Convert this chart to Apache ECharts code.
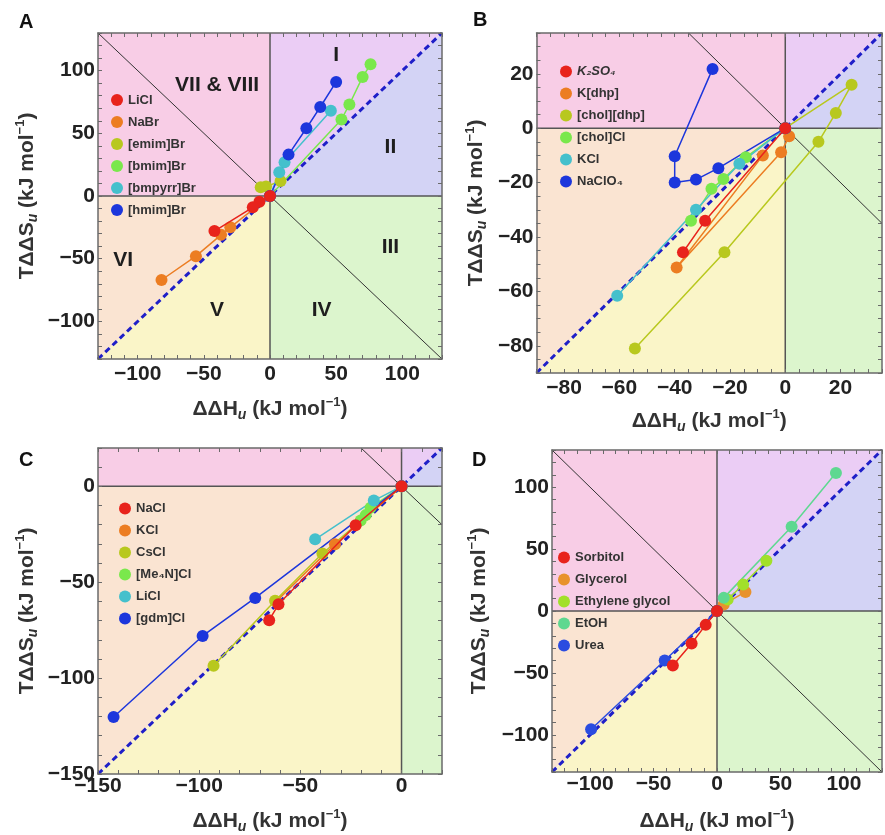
<!DOCTYPE html>
<html>
<head>
<meta charset="utf-8">
<script src="https://cdn.jsdelivr.net/npm/echarts@6/dist/echarts.min.js"></script>
<style>
html, body { margin: 0; padding: 0; background: #fff; }
#chart { width: 885px; height: 835px; }
</style>
</head>
<body>
<div id="chart"></div>
<script>
var FONT = '"Liberation Sans", Arial, sans-serif';

// colours used by the series (same order in every panel)
var RED = '#e8231c', ORANGE = '#ec7d22', OLIVE = '#b8c81e', LIME = '#7ae84c', CYAN = '#45c0cc', BLUE = '#1c36dc';

// ---- panel A : salts / ionic liquids ----
var namesA = ['LiCl', 'NaBr', '[emim]Br', '[bmim]Br', '[bmpyrr]Br', '[hmim]Br'];
var colorsA = [RED, ORANGE, OLIVE, LIME, CYAN, BLUE];
var a_LiCl = [[0, 0], [-8, -4.5], [-13, -9], [-42, -28]];
var a_NaBr = [[0, 0], [-30, -25], [-37, -31], [-56, -48], [-82, -67]];
var a_emim = [[-7, 7], [-3, 7.5], [8, 12]];
var a_bmim = [[0, 0], [54, 61], [60, 73], [70, 95], [76, 105]];
var a_bmpyrr = [[0, 0], [7, 19], [11, 27], [46, 68]];
var a_hmim = [[0, 0], [14, 33], [27.5, 54], [38, 71], [50, 91]];
var regionNames = ['I', 'II', 'III', 'IV', 'V', 'VI', 'VII & VIII'];
var regionSpots = [[50, 112], [91, 39], [91, -41], [39, -91], [-40, -91], [-111, -51], [-40, 88]];

// ---- panel B ----
var namesB = ['K\u2082SO\u2084', 'K[dhp]', '[chol][dhp]', '[chol]Cl', 'KCl', 'NaClO\u2084'];
var colorsB = [RED, ORANGE, OLIVE, LIME, CYAN, BLUE];
var b_K2SO4 = [[0, 0], [-29, -34], [-37, -45.6]];
var b_Kdhp = [[1.4, -3], [-1.5, -8.8], [-39.3, -51.2], [-8.1, -10]];
var b_choldhp = [[0, 0], [24, 16], [18.3, 5.6], [12, -5], [-22, -45.6], [-54.4, -81]];
var b_cholCl = [[0, 0], [-14.3, -10.7], [-22.4, -18.7], [-26.7, -22.3], [-34.1, -34]];
var b_KCl = [[0, 0], [-16.6, -13.1], [-32.3, -30], [-60.8, -61.6]];
var b_NaClO4 = [[0, 0], [-24.2, -14.7], [-32.3, -18.9], [-40, -20], [-40, -10.3], [-26.3, 21.8]];

// ---- panel C ----
var namesC = ['NaCl', 'KCl', 'CsCl', '[Me\u2084N]Cl', 'LiCl', '[gdm]Cl'];
var colorsC = [RED, ORANGE, OLIVE, LIME, CYAN, BLUE];
var c_NaCl = [[0, 0], [-22.7, -20.3], [-60.8, -61.5], [-65.4, -69.8]];
var c_KCl = [[0, 0], [-32.9, -30.2], [-62, -60]];
var c_CsCl = [[0, 0], [-39.1, -35], [-62.5, -59.7], [-92.9, -93.5]];
var c_Me4N = [[0, 0], [-15.3, -11.2], [-17.7, -15], [-20.2, -17.8]];
var c_LiCl = [[0, 0], [-13.7, -7.4], [-42.7, -27.6]];
var c_gdm = [[0, 0], [-72.3, -58.2], [-98.3, -78], [-142.3, -120.3]];

// ---- panel D : osmolytes ----
var namesD = ['Sorbitol', 'Glycerol', 'Ethylene glycol', 'EtOH', 'Urea'];
var colorsD = [RED, '#e8922c', '#a2e02a', '#5ed890', '#2a4ce0'];
var d_sorbitol = [[0, 0], [-8.9, -11.2], [-20, -26.2], [-34.8, -44]];
var d_glycerol = [[0, 0], [5.3, 5.3], [22.4, 15.4]];
var d_eg = [[0, 0], [8.4, 9.3], [20.6, 21.3], [38.9, 40.5]];
var d_etoh = [[0, 0], [5.3, 10.6], [58.8, 68], [93.7, 111.4]];
var d_urea = [[0, 0], [-41.2, -40], [-99.2, -95.5]];

var panels = [
    {letter: 'A', names: namesA, colors: colorsA, data: [a_LiCl, a_NaBr, a_emim, a_bmim, a_bmpyrr, a_hmim],
     left: 98, top: 33, width: 344, height: 326, lo: -130, hi: 130, step: 50, minor: 10,
     xMargin: 5, xGap: 37, yGap: 58, legend: [111, 93.5], letterPos: [19, 12]},
    {letter: 'B', names: namesB, colors: colorsB, data: [b_K2SO4, b_Kdhp, b_choldhp, b_cholCl, b_KCl, b_NaClO4],
     left: 536.5, top: 33, width: 358, height: 340, lo: -90, hi: 35, step: 20, minor: 5,
     xMargin: 5, xGap: 35, yGap: 47, legend: [560, 65], letterPos: [473, 10]},
    {letter: 'C', names: namesC, colors: colorsC, data: [c_NaCl, c_KCl, c_CsCl, c_Me4N, c_LiCl, c_gdm],
     left: 98, top: 448, width: 344, height: 329, lo: -150, hi: 20, step: 50, minor: 10,
     xMargin: 2, xGap: 34, yGap: 58, legend: [119, 502], letterPos: [19, 450]},
    {letter: 'D', names: namesD, colors: colorsD, data: [d_sorbitol, d_glycerol, d_eg, d_etoh, d_urea],
     left: 552, top: 450, width: 341, height: 325, lo: -130, hi: 130, step: 50, minor: 10,
     xMargin: 2, xGap: 36, yGap: 60, legend: [558, 551], letterPos: [472, 450]}
];

var FILLS = {pink: '#f8cde6', violet: '#ebcdf5', lavender: '#d3d3f5', green: '#dcf5cd', peach: '#fae4d2', yellow: '#faf5c8'};

function minusFmt(step) {
    return function (v) {
        if (Math.abs(v % step) > 1e-6) return '';
        return v < 0 ? '\u2212' + Math.abs(v) : String(v);
    };
}

function nameRich() {
    return {
        b: {fontFamily: FONT, fontWeight: 'bold', fontSize: 21, color: '#333', lineHeight: 26},
        s: {fontFamily: FONT, fontWeight: 'bold', fontStyle: 'italic', fontSize: 14, color: '#333', lineHeight: 14, verticalAlign: 'bottom'},
        p: {fontFamily: FONT, fontWeight: 'bold', fontSize: 13, color: '#333', lineHeight: 13, verticalAlign: 'top'}
    };
}

var frame = {show: true, onZero: false, lineStyle: {color: '#6a6a6a', width: 1.5}};
var tick = {show: true, inside: true, length: 4, lineStyle: {color: '#6a6a6a', width: 1}};

var option = {animation: false, grid: [], xAxis: [], yAxis: [], series: [], legend: [], graphic: []};

panels.forEach(function (p, i) {
    option.grid.push({left: p.left, top: p.top, width: p.width, height: p.height, show: false});
    var ax = {type: 'value', gridIndex: i, min: p.lo, max: p.hi, interval: p.minor, z: 20,
              axisLine: frame, axisTick: tick, splitLine: {show: false}};
    option.xAxis.push(Object.assign({}, ax, {
        position: 'bottom',
        name: '{b|\u0394\u0394H}{s|u}{b| (kJ mol}{p|\u22121}{b|)}',
        nameLocation: 'middle', nameGap: p.xGap, nameTextStyle: {rich: nameRich()},
        axisLabel: {margin: p.xMargin, fontFamily: FONT, fontWeight: 'bold', fontSize: 21, color: '#222', formatter: minusFmt(p.step)}
    }));
    option.xAxis.push(Object.assign({}, ax, {position: 'top', axisLabel: {show: false}}));
    option.yAxis.push(Object.assign({}, ax, {
        position: 'left',
        name: '{b|T\u0394\u0394S}{s|u}{b| (kJ mol}{p|\u22121}{b|)}',
        nameLocation: 'middle', nameGap: p.yGap, nameRotate: 90, nameTextStyle: {rich: nameRich()},
        axisLabel: {margin: 3, fontFamily: FONT, fontWeight: 'bold', fontSize: 21, color: '#222', formatter: minusFmt(p.step)}
    }));
    option.yAxis.push(Object.assign({}, ax, {position: 'right', axisLabel: {show: false}}));

    var xi = 2 * i, yi = 2 * i, lo = p.lo, hi = p.hi, m = Math.min(-lo, hi);

    // shaded regions of the enthalpy / entropy plane
    var polys = [
        {fill: FILLS.pink, pts: [[lo, 0], [0, 0], [0, hi], [lo, hi]]},
        {fill: FILLS.violet, pts: [[0, 0], [0, hi], [hi, hi]]},
        {fill: FILLS.lavender, pts: [[0, 0], [hi, hi], [hi, 0]]},
        {fill: FILLS.green, pts: [[0, 0], [hi, 0], [hi, lo], [0, lo]]},
        {fill: FILLS.peach, pts: [[0, 0], [lo, 0], [lo, lo]]},
        {fill: FILLS.yellow, pts: [[0, 0], [lo, lo], [0, lo]]}
    ];
    option.series.push({
        type: 'custom', xAxisIndex: xi, yAxisIndex: yi, silent: true, z: 1, clip: true,
        data: polys.map(function () { return [0, 0]; }),
        renderItem: function (params, api) {
            var q = polys[params.dataIndex];
            return {type: 'polygon', shape: {points: q.pts.map(function (pt) { return api.coord(pt); })},
                    style: {fill: q.fill}};
        }
    });
    function guide(pts, style, z) {
        option.series.push({type: 'line', xAxisIndex: xi, yAxisIndex: yi, data: pts, symbol: 'none',
                            silent: true, z: z, lineStyle: style});
    }
    guide([[lo, 0], [hi, 0]], {color: '#555', width: 1.5}, 2);
    guide([[0, lo], [0, hi]], {color: '#555', width: 1.5}, 2);
    guide([[-m, m], [m, -m]], {color: '#333', width: 1}, 2);
    guide([[lo, lo], [hi, hi]], {color: '#1f1fc8', width: 3, type: [6, 4]}, 3);

    p.names.forEach(function (name, k) {
        var c = p.colors[k];
        option.series.push({
            type: 'line', name: name, xAxisIndex: xi, yAxisIndex: yi, data: p.data[k],
            symbol: 'circle', symbolSize: 12, showSymbol: true,
            lineStyle: {color: c, width: 1.5}, itemStyle: {color: c},
            z: k === 0 ? 16 : 10, emphasis: {disabled: true}
        });
    });

    option.legend.push({
        orient: 'vertical', left: p.legend[0], top: p.legend[1], padding: 0,
        icon: 'circle', itemWidth: 12, itemHeight: 12, itemGap: 9, selectedMode: false,
        data: p.names.map(function (n, k) {
            var d = {name: n, itemStyle: {color: p.colors[k]}};
            if (n === 'K\u2082SO\u2084') d.textStyle = {fontStyle: 'italic'};
            return d;
        }),
        textStyle: {fontFamily: FONT, fontSize: 13, fontWeight: 'bold', color: '#333', lineHeight: 13}
    });

    option.graphic.push({type: 'text', left: p.letterPos[0], top: p.letterPos[1], z: 30,
                         style: {text: p.letter, font: 'bold 20px ' + FONT, fill: '#111'}});
});

// region numerals in panel A
option.series.push({
    type: 'scatter', xAxisIndex: 0, yAxisIndex: 0, symbolSize: 1, silent: true, z: 12,
    itemStyle: {color: 'rgba(0,0,0,0)'},
    data: regionNames.map(function (n, k) { return {name: n, value: regionSpots[k]}; }),
    label: {show: true, position: 'inside', formatter: '{b}', fontFamily: FONT, fontWeight: 'bold',
            fontSize: 21, color: '#1e1e1e', opacity: 1}
});

var chart = echarts.init(document.getElementById('chart'));
chart.setOption(option);
</script>
</body>
</html>
